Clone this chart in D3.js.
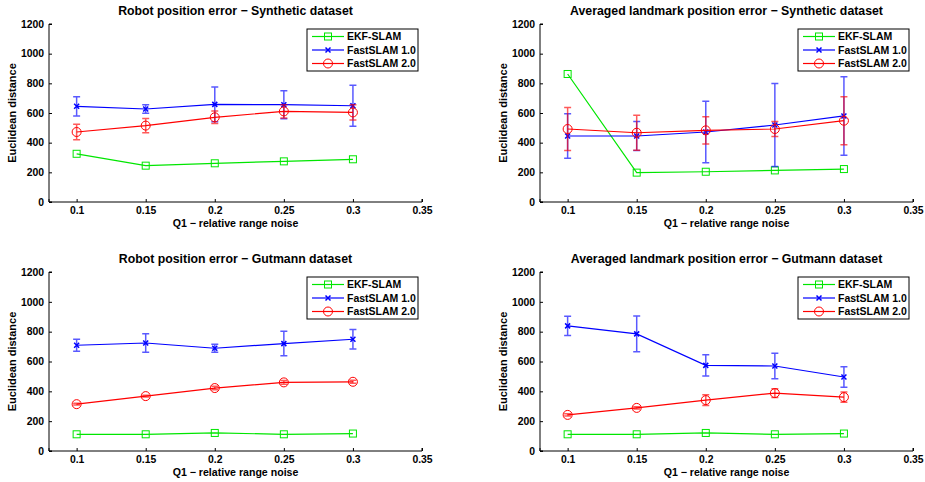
<!DOCTYPE html>
<html>
<head>
<meta charset="utf-8">
<script src="https://cdn.jsdelivr.net/npm/d3@7"></script>
<style>
  body { margin: 0; background: #fff; }
  svg text { font-family: "Liberation Sans", Arial, sans-serif; font-weight: bold; fill: #000; }
</style>
</head>
<body>
<svg id="chart" width="925" height="482"></svg>
<script>
// x values (relative range noise)
const noise = [0.1, 0.15, 0.2, 0.25, 0.3];
const xTicks = [0.1, 0.15, 0.2, 0.25, 0.3, 0.35];
const yTicks = [0, 200, 400, 600, 800, 1000, 1200];
const seriesNames = ['EKF-SLAM', 'FastSLAM 1.0', 'FastSLAM 2.0'];

// robot position error - synthetic
const robotSynEkf = [325, 245, 261, 274, 288];
const robotSynFs1 = [645, 627, 658, 656, 649];
const robotSynFs1Err = [65, 28, 117, 94, 138];
const robotSynFs2 = [472, 515, 571, 611, 604];
const robotSynFs2Err = [52, 48, 42, 44, 52];

// landmark position error - synthetic
const lmSynEkf = [863, 198, 204, 213, 222];
const lmSynFs1 = [445, 445, 472, 519, 580];
const lmSynFs1Err = [150, 98, 208, 280, 264];
const lmSynFs2 = [492, 467, 483, 492, 548];
const lmSynFs2Err = [145, 118, 92, 50, 162];

// robot position error - gutmann
const robotGutEkf = [112, 112, 121, 112, 117];
const robotGutFs1 = [709, 724, 689, 720, 749];
const robotGutFs1Err = [40, 62, 27, 82, 66];
const robotGutFs2 = [314, 368, 422, 460, 464];
const robotGutFs2Err = [6, 6, 12, 12, 10];

// landmark position error - gutmann
const lmGutEkf = [112, 112, 121, 112, 117];
const lmGutFs1 = [839, 785, 574, 570, 496];
const lmGutFs1Err = [65, 120, 71, 86, 68];
const lmGutFs2 = [242, 289, 341, 388, 361];
const lmGutFs2Err = [8, 8, 36, 29, 35];

const colors = ['#00e600', '#0000ff', '#ff0000'];

const panels = [
  {title: 'Robot position error \u2212 Synthetic dataset', left: 49, top: 24, h: 178,
   vals: [robotSynEkf, robotSynFs1, robotSynFs2], errs: [null, robotSynFs1Err, robotSynFs2Err]},
  {title: 'Averaged landmark position error \u2212 Synthetic dataset', left: 540, top: 24, h: 178,
   vals: [lmSynEkf, lmSynFs1, lmSynFs2], errs: [null, lmSynFs1Err, lmSynFs2Err]},
  {title: 'Robot position error \u2212 Gutmann dataset', left: 49, top: 272, h: 179,
   vals: [robotGutEkf, robotGutFs1, robotGutFs2], errs: [null, robotGutFs1Err, robotGutFs2Err]},
  {title: 'Averaged landmark position error \u2212 Gutmann dataset', left: 540, top: 272, h: 179,
   vals: [lmGutEkf, lmGutFs1, lmGutFs2], errs: [null, lmGutFs1Err, lmGutFs2Err]}
];

const svg = d3.select('#chart');
const plotW = 373;

function drawMarker(g, type, x, y, color) {
  if (type === 0) {
    g.append('rect').attr('x', x - 3.5).attr('y', y - 3.5).attr('width', 7).attr('height', 7)
      .attr('fill', 'none').attr('stroke', color).attr('stroke-width', 1);
  } else if (type === 1) {
    g.append('path').attr('d', `M${x-2.5},${y-2.5}L${x+2.5},${y+2.5}M${x-2.5},${y+2.5}L${x+2.5},${y-2.5}`)
      .attr('stroke', color).attr('stroke-width', 1.5);
  } else {
    g.append('circle').attr('cx', x).attr('cy', y).attr('r', 4.5)
      .attr('fill', 'none').attr('stroke', color).attr('stroke-width', 1);
  }
}

panels.forEach(p => {
  const x = d3.scaleLinear().domain([0.08, 0.35]).range([p.left, p.left + plotW]);
  const y = d3.scaleLinear().domain([0, 1200]).range([p.top + p.h, p.top]);
  const g = svg.append('g');

  // axes (ticks inward)
  g.append('g').attr('transform', `translate(0,${p.top + p.h})`)
    .call(d3.axisBottom(x).tickValues(xTicks).tickSize(-3).tickPadding(5).tickFormat(d3.format('')))
    .call(a => a.select('.domain').attr('d', `M${p.left},-3V0H${p.left + plotW}V-3`))
    .call(a => a.selectAll('text').style('font-size', '10.4px'));
  g.append('g').attr('transform', `translate(${p.left},0)`)
    .call(d3.axisLeft(y).tickValues(yTicks).tickSize(-3).tickPadding(5).tickFormat(d3.format('d')))
    .call(a => a.select('.domain').attr('d', `M3,${p.top}H0V${p.top + p.h}H3`))
    .call(a => a.selectAll('text').style('font-size', '10.4px'));
  g.selectAll('.domain, .tick line').attr('stroke', '#000');

  // titles / labels
  g.append('text').attr('x', p.left + plotW / 2).attr('y', p.top - 9).attr('text-anchor', 'middle')
    .style('font-size', '12.3px').text(p.title);
  g.append('text').attr('x', p.left + plotW / 2).attr('y', p.top + p.h + 24.5).attr('text-anchor', 'middle')
    .style('font-size', '10.6px').text('Q1 \u2212 relative range noise');
  g.append('text').attr('transform', `translate(${p.left - 33},${p.top + p.h / 2}) rotate(-90)`)
    .attr('text-anchor', 'middle').style('font-size', '11px').text('Euclidean distance');

  const line = d3.line().x(d => x(d[0])).y(d => y(d[1]));

  p.vals.forEach((vals, si) => {
    const c = colors[si];
    const pts = noise.map((n, i) => [n, vals[i]]);
    g.append('path').datum(pts).attr('d', line).attr('fill', 'none')
      .attr('stroke', c).attr('stroke-width', 1.2);
    const errs = p.errs[si];
    if (errs) {
      pts.forEach((d, i) => {
        const cx = x(d[0]), y1 = y(d[1] + errs[i]), y2 = y(d[1] - errs[i]);
        g.append('path')
          .attr('d', `M${cx},${y1}V${y2}M${cx-3.5},${y1}H${cx+3.5}M${cx-3.5},${y2}H${cx+3.5}`)
          .attr('stroke', c).attr('stroke-width', 1.5).attr('fill', 'none').attr('opacity', 0.65);
      });
    }
    pts.forEach(d => drawMarker(g, si, x(d[0]), y(d[1]), c));
  });

  // legend
  const lx = p.left + plotW - 115, ly = p.top + 5;
  const lg = g.append('g');
  lg.append('rect').attr('x', lx).attr('y', ly).attr('width', 111).attr('height', 42)
    .attr('fill', '#fff').attr('stroke', '#000').attr('stroke-width', 1);
  seriesNames.forEach((name, si) => {
    const yy = ly + 7.5 + si * 13.5;
    lg.append('line').attr('x1', lx + 5).attr('x2', lx + 37).attr('y1', yy).attr('y2', yy)
      .attr('stroke', colors[si]).attr('stroke-width', 1.2);
    drawMarker(lg, si, lx + 21, yy, colors[si]);
    lg.append('text').attr('x', lx + 40).attr('y', yy + 3.8).style('font-size', '10.5px').text(name);
  });
});
</script>
</body>
</html>
